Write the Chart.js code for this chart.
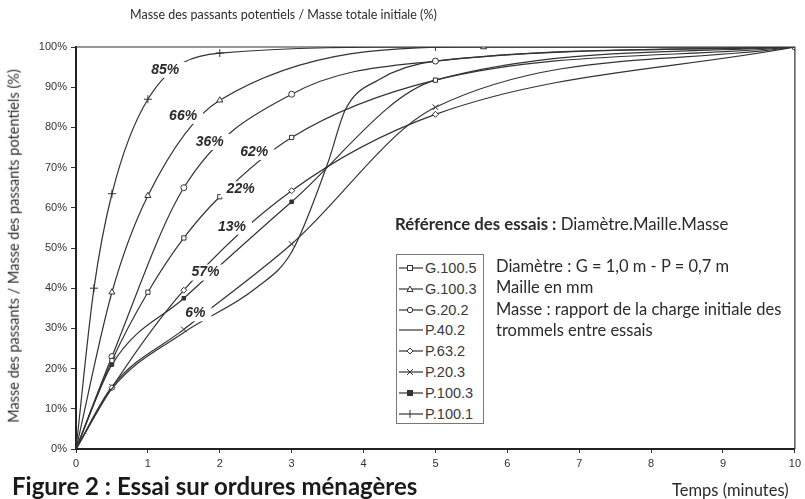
<!DOCTYPE html>
<html><head><meta charset="utf-8">
<script src="https://cdn.jsdelivr.net/npm/chart.js@4.4.1/dist/chart.umd.min.js"></script>
<style>
html,body{margin:0;padding:0;background:#fff;}
#wrap{position:relative;width:805px;height:499px;overflow:hidden;background:#fff;}
#c{position:absolute;left:0;top:0;}
.t{position:absolute;white-space:nowrap;color:#2b2b2b;font-family:Lato,"Open Sans",sans-serif;line-height:1;}
#legend{position:absolute;left:396px;top:254px;width:86px;height:168px;border:1px solid #777;background:#fff;}
.lr{position:absolute;left:0;height:16px;white-space:nowrap;font-family:"Liberation Sans",Arial,sans-serif;font-size:14.5px;color:#3a3a3a;line-height:16px;}
.lr svg{position:absolute;left:1px;top:2px;}
.lr span{position:absolute;left:28px;top:0;}
</style></head><body>
<div id="wrap">
<canvas id="c" width="805" height="499"></canvas>
<div class="t" style="left:130px;top:9px;font-size:12.5px;">Masse des passants potentiels / Masse totale initiale (%)</div>
<div class="t" style="left:14px;top:246px;font-size:14.5px;transform:translate(-50%,-50%) rotate(-90deg);">Masse des passants / Masse des passants potentiels (%)</div>
<div class="t" style="left:672px;top:482px;font-size:16.5px;">Temps (minutes)</div>
<div class="t" style="left:12px;top:474px;font-size:24px;font-weight:bold;color:#1a1a1a;">Figure 2 : Essai sur ordures ménagères</div>
<div class="t" style="left:392px;top:214px;font-size:16.8px;background:#fff;padding:2px 3px;"><b>Référence des essais :</b> Diamètre.Maille.Masse</div>
<div class="t" style="left:496px;top:258px;font-size:16.5px;">Diamètre : G = 1,0 m - P = 0,7 m</div>
<div class="t" style="left:496px;top:279px;font-size:16.5px;">Maille en mm</div>
<div class="t" style="left:496px;top:301px;font-size:16.5px;">Masse : rapport de la charge initiale des</div>
<div class="t" style="left:496px;top:322px;font-size:16.5px;">trommels entre essais</div>
<div id="legend"></div>
</div>
<script>
// ---- data (time in minutes, value in %) ----
const seriesNames = ['G.100.5','G.100.3','G.20.2','P.40.2','P.63.2','P.20.3','P.100.3','P.100.1'];
const g1005_t = [0,0.5,1,1.5,2,3,5,10];
const g1005_v = [0,22,39,52.5,62.75,77.5,91.75,100];
const g1003_t = [0,0.5,1,2,5.67,10];
const g1003_v = [0,39,63,86.75,100,100];
const g202_t = [0,0.5,1.5,3,5,10];
const g202_v = [0,23,65,88.25,96.5,100];
const p402_t = [0,0.5,1.5,2.5,3,3.5,3.75,4.2,5,10];
const p402_v = [0,15,29,40,49,71,84.5,91.75,96.5,100];
const p632_t = [0,0.5,1.5,3,5,10];
const p632_v = [0,15.25,39.5,64.25,83.25,100];
const p203_t = [0,0.5,1.5,3,5,10];
const p203_v = [0,15.5,29.75,51,85,100];
const p1003_t = [0,0.5,1.5,3,5,10];
const p1003_v = [0,21,37.5,61.5,91.75,100];
const p1001_t = [0,0.25,0.5,1,2,5,10];
const p1001_v = [0,40,63.5,87,98.5,100,100];
const xTicks = [0,1,2,3,4,5,6,7,8,9,10];
const yTicks = [0,10,20,30,40,50,60,70,80,90,100];
const curveLabels = ['85%','66%','36%','62%','22%','13%','57%','6%'];
const labelAnchorX = [1.24,1.49,1.86,2.48,2.29,2.17,1.80,1.66];
const labelAnchorY = [94.3,82.9,76.4,73.9,64.6,55.3,43.9,33.75];

const allT = [g1005_t,g1003_t,g202_t,p402_t,p632_t,p203_t,p1003_t,p1001_t];
const allV = [g1005_v,g1003_v,g202_v,p402_v,p632_v,p203_v,p1003_v,p1001_v];
const styles = [
  {ps:'rect',r:3,fill:'#fff'},
  {ps:'triangle',r:3.5,fill:'#fff'},
  {ps:'circle',r:3,fill:'#fff'},
  {ps:'circle',r:0,fill:'#fff'},
  {ps:'rectRot',r:3,fill:'#fff'},
  {ps:'crossRot',r:4,fill:'#fff'},
  {ps:'rect',r:2.5,fill:'#333'},
  {ps:'cross',r:4,fill:'#fff'}
];
const LINE = '#333';
const datasets = seriesNames.map((n,i)=>({
  label:n,
  data: allT[i].map((t,j)=>({x:t,y:allV[i][j]})),
  showLine:true,
  borderColor:LINE, borderWidth:1.2,
  cubicInterpolationMode:'monotone',
  pointStyle: styles[i].ps,
  pointRadius: allT[i].map((t,j)=> (t===0||t===10) ? 0 : styles[i].r),
  pointBorderColor:LINE, pointBorderWidth:1,
  pointBackgroundColor: styles[i].fill
}));
datasets[2].pointRadius[datasets[2].pointRadius.length-1]=3;

const frame = {
  id:'frame',
  afterDatasetsDraw(chart){
    const {ctx, chartArea:a, scales} = chart;
    ctx.save();
    ctx.strokeStyle='#333'; ctx.lineWidth=1.2;
    ctx.beginPath(); ctx.moveTo(a.left,a.top); ctx.lineTo(a.right,a.top); ctx.lineTo(a.right,a.bottom); ctx.stroke();
    ctx.font='bold italic 14px "Liberation Sans", Arial, sans-serif';
    ctx.textAlign='center'; ctx.textBaseline='middle';
    curveLabels.forEach((s,i)=>{
      const px = scales.x.getPixelForValue(labelAnchorX[i]);
      const py = scales.y.getPixelForValue(labelAnchorY[i]);
      const w = ctx.measureText(s).width;
      ctx.fillStyle='#fff';
      ctx.fillRect(px-w/2-6, py-8, w+12, 16);
      ctx.fillStyle='#2a2a2a';
      ctx.fillText(s, px, py);
    });
    ctx.restore();
  }
};

new Chart(document.getElementById('c'), {
  type:'scatter',
  data:{datasets},
  options:{
    responsive:false, animation:false, devicePixelRatio:1,
    layout:{padding:{left:0,top:47,right:4,bottom:0}},
    plugins:{legend:{display:false}, tooltip:{enabled:false}},
    scales:{
      x:{type:'linear',min:0,max:10,
        afterBuildTicks(s){ s.ticks = xTicks.map(v=>({value:v})); },
        afterFit(s){ s.height = 50; },
        grid:{display:true,drawOnChartArea:false,drawTicks:true,tickLength:4,color:'#333'},
        border:{display:true,color:'#222',width:2},
        ticks:{color:'#333',font:{family:'"Liberation Sans", Arial, sans-serif',size:11},padding:4,maxRotation:0,callback:v=>String(v)}
      },
      y:{type:'linear',min:0,max:100,
        afterBuildTicks(s){ s.ticks = yTicks.map(v=>({value:v})); },
        afterFit(s){ s.width = 76; },
        grid:{display:true,drawOnChartArea:false,drawTicks:true,tickLength:5,color:'#333'},
        border:{display:true,color:'#222',width:2},
        ticks:{color:'#333',font:{family:'"Liberation Sans", Arial, sans-serif',size:11},padding:4,callback:v=>v+'%'}
      }
    }
  },
  plugins:[frame]
});

const lg = document.getElementById('legend');
function markerSvg(st){
  let m='';
  const c='#333';
  if(st.r===0) m='';
  else if(st.ps==='rect') m=`<rect x="9.5" y="3.5" width="5" height="5" fill="${st.fill}" stroke="${c}"/>`;
  else if(st.ps==='triangle') m=`<polygon points="12,3 15,8.5 9,8.5" fill="#fff" stroke="${c}"/>`;
  else if(st.ps==='circle') m=`<circle cx="12" cy="6" r="2.7" fill="#fff" stroke="${c}"/>`;
  else if(st.ps==='rectRot') m=`<polygon points="12,3 15,6 12,9 9,6" fill="#fff" stroke="${c}"/>`;
  else if(st.ps==='crossRot') m=`<path d="M9,3 L15,9 M15,3 L9,9" stroke="${c}"/>`;
  else if(st.ps==='cross') m=`<path d="M12,2 L12,10" stroke="${c}"/>`;
  return `<svg width="26" height="12"><line x1="1" y1="6" x2="25" y2="6" stroke="${c}" stroke-width="1.2"/>${m}</svg>`;
}
seriesNames.forEach((n,i)=>{
  const d=document.createElement('div');
  d.className='lr';
  d.style.top=(5+i*20.8)+'px';
  d.innerHTML=markerSvg(styles[i])+`<span>${n}</span>`;
  lg.appendChild(d);
});
</script>
</body></html>
